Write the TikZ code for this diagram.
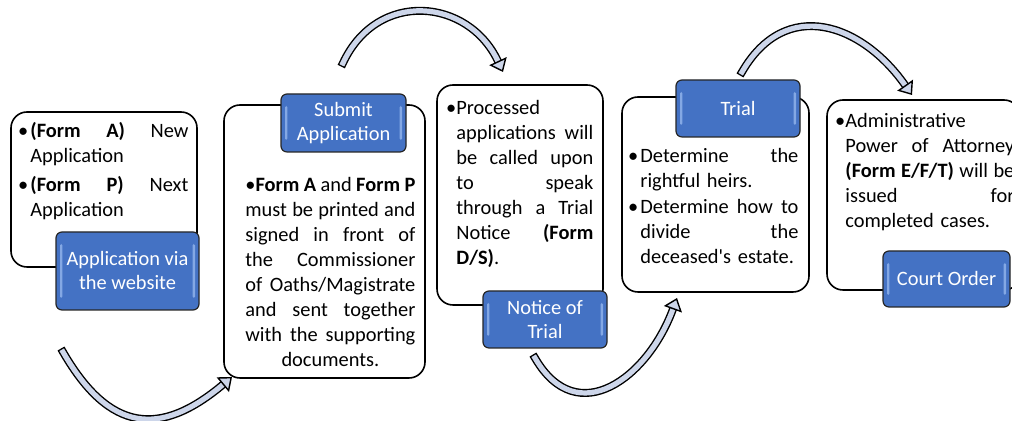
\documentclass[tikz,border=0pt]{standalone}
\usepackage{fontspec}
\setmainfont{Carlito}
\usepackage{tikz}
\usetikzlibrary{arrows.meta,positioning,calc}
\definecolor{stepblue}{RGB}{68,114,196}
\definecolor{steprim}{RGB}{160,192,242}
\definecolor{arrowfill}{RGB}{205,214,234}
\newcommand{\jline}[1]{\makebox[\hsize][s]{\spaceskip=0pt\relax #1}}
\newcommand{\bline}[1]{\makebox[\hsize][s]{\spaceskip=0pt\relax\llap{\textbullet\hspace{1pt}}#1}}

\begin{document}
\begin{tikzpicture}[x=0.5pt,y=0.5pt,
 card/.style={draw,line width=0.8pt,rounded corners=8pt,fill=white,inner sep=0pt},
 tag/.style={draw=black!85,line width=0.6pt,rounded corners=3pt,fill=stepblue,text=white,align=center,inner sep=0pt,
  font=\fontsize{10.2}{12}\selectfont,
  path picture={
   \fill[steprim,opacity=0.7,rounded corners=0.7pt] ([shift={(2pt,-6pt)}]path picture bounding box.north west) rectangle ([shift={(3.2pt,6pt)}]path picture bounding box.south west);
   \fill[steprim,opacity=0.7,rounded corners=0.7pt] ([shift={(-2pt,-6pt)}]path picture bounding box.north east) rectangle ([shift={(-3.2pt,6pt)}]path picture bounding box.south east);}},
 txt/.style={anchor=base west,inner sep=0pt,align=left,font=\fontsize{10.2}{12.5}\selectfont},
 flow/.style={line width=0.7pt,double=arrowfill,double distance=2.6pt,line cap=rect,-{Triangle[length=6pt,width=9.5pt,fill=arrowfill]}}]
\useasboundingbox (0,0) rectangle (1012,421);
% white cards
\node[card,minimum width=93pt,minimum height=77.5pt] (web) at (104,231.5) {};
\node[card,minimum width=100.5pt,minimum height=136.5pt] (submit) at (324.5,179.5) {};
\node[card,minimum width=83pt,minimum height=110pt] (notice) at (520,226) {};
\node[card,minimum width=93.5pt,minimum height=97.5pt] (trial) at (715.5,226.5) {};
\node[card,minimum width=96.5pt,minimum height=95pt] (order) at (923.5,226) {};
% blue tags
\node[tag,minimum width=71.5pt,minimum height=39pt] (webtag) at (127.5,150) {Application via\\the website};
\node[tag,minimum width=62.5pt,minimum height=29pt] (submittag) at (343.5,298) {Submit\\Application};
\node[tag,minimum width=62pt,minimum height=28.5pt] (noticetag) at (545,101.5) {Notice of\\Trial};
\node[tag,minimum width=62pt,minimum height=28.5pt] (trialtag) at (738,312.5) {Trial};
\node[tag,minimum width=63.5pt,minimum height=28pt] (ordertag) at (946.5,142) {Court Order};
% card texts
\node[txt,text width=79pt] (webtxt) at (30,283) {\bline{\textbf{(Form A)} New}\\Application\\[2pt]%
 \bline{\textbf{(Form P)} Next}\\Application};
\node[txt,text width=85pt] (submittxt) at (245,229) {\jline{\textbullet\textbf{Form A} and \textbf{Form P}}\\
 \jline{must be printed and}\\\jline{signed in front of}\\\jline{the Commissioner}\\\jline{of Oaths/Magistrate}\\
 \jline{and sent together}\\\jline{with the supporting}\\\makebox[\hsize]{documents.}};
\node[txt,text width=68.5pt] (noticetxt) at (456,306) {\llap{\textbullet}Processed\\\jline{applications will}\\
 \jline{be called upon}\\\jline{to speak}\\\jline{through a Trial}\\\jline{Notice \textbf{(Form}}\\\textbf{D/S)}.};
\node[txt,text width=79pt] (trialtxt) at (640,258) {\bline{Determine the}\\rightful heirs.\\[0.5pt]%
 \bline{Determine how to}\\\jline{divide the}\\deceased\textquotesingle s estate.};
\node[txt,text width=84.5pt] (ordertxt) at (845,293) {\llap{\textbullet}Administrative\\\jline{Power of Attorney}\\
 \jline{\textbf{(Form E/F/T)} will be}\\\jline{issued for}\\completed cases.};
% curved arrows
\coordinate (s1) at (63,69);   \coordinate (e1) at (232,44);
\coordinate (s2) at (343,358); \coordinate (e2) at (503,349);
\coordinate (s3) at (535,63);  \coordinate (e3) at (677,123);
\coordinate (s4) at (742,349); \coordinate (e4) at (912,326);
\draw[flow] (s1) to[out=-60,in=220,looseness=1.4] (e1);
\draw[flow] (s2) to[out=65,in=115,looseness=1.3] (e2);
\draw[flow] (s3) to[out=-60,in=-110,looseness=1.4] (e3);
\draw[flow] (s4) to[out=60,in=125,looseness=1.3] (e4);
\end{tikzpicture}
\end{document}
